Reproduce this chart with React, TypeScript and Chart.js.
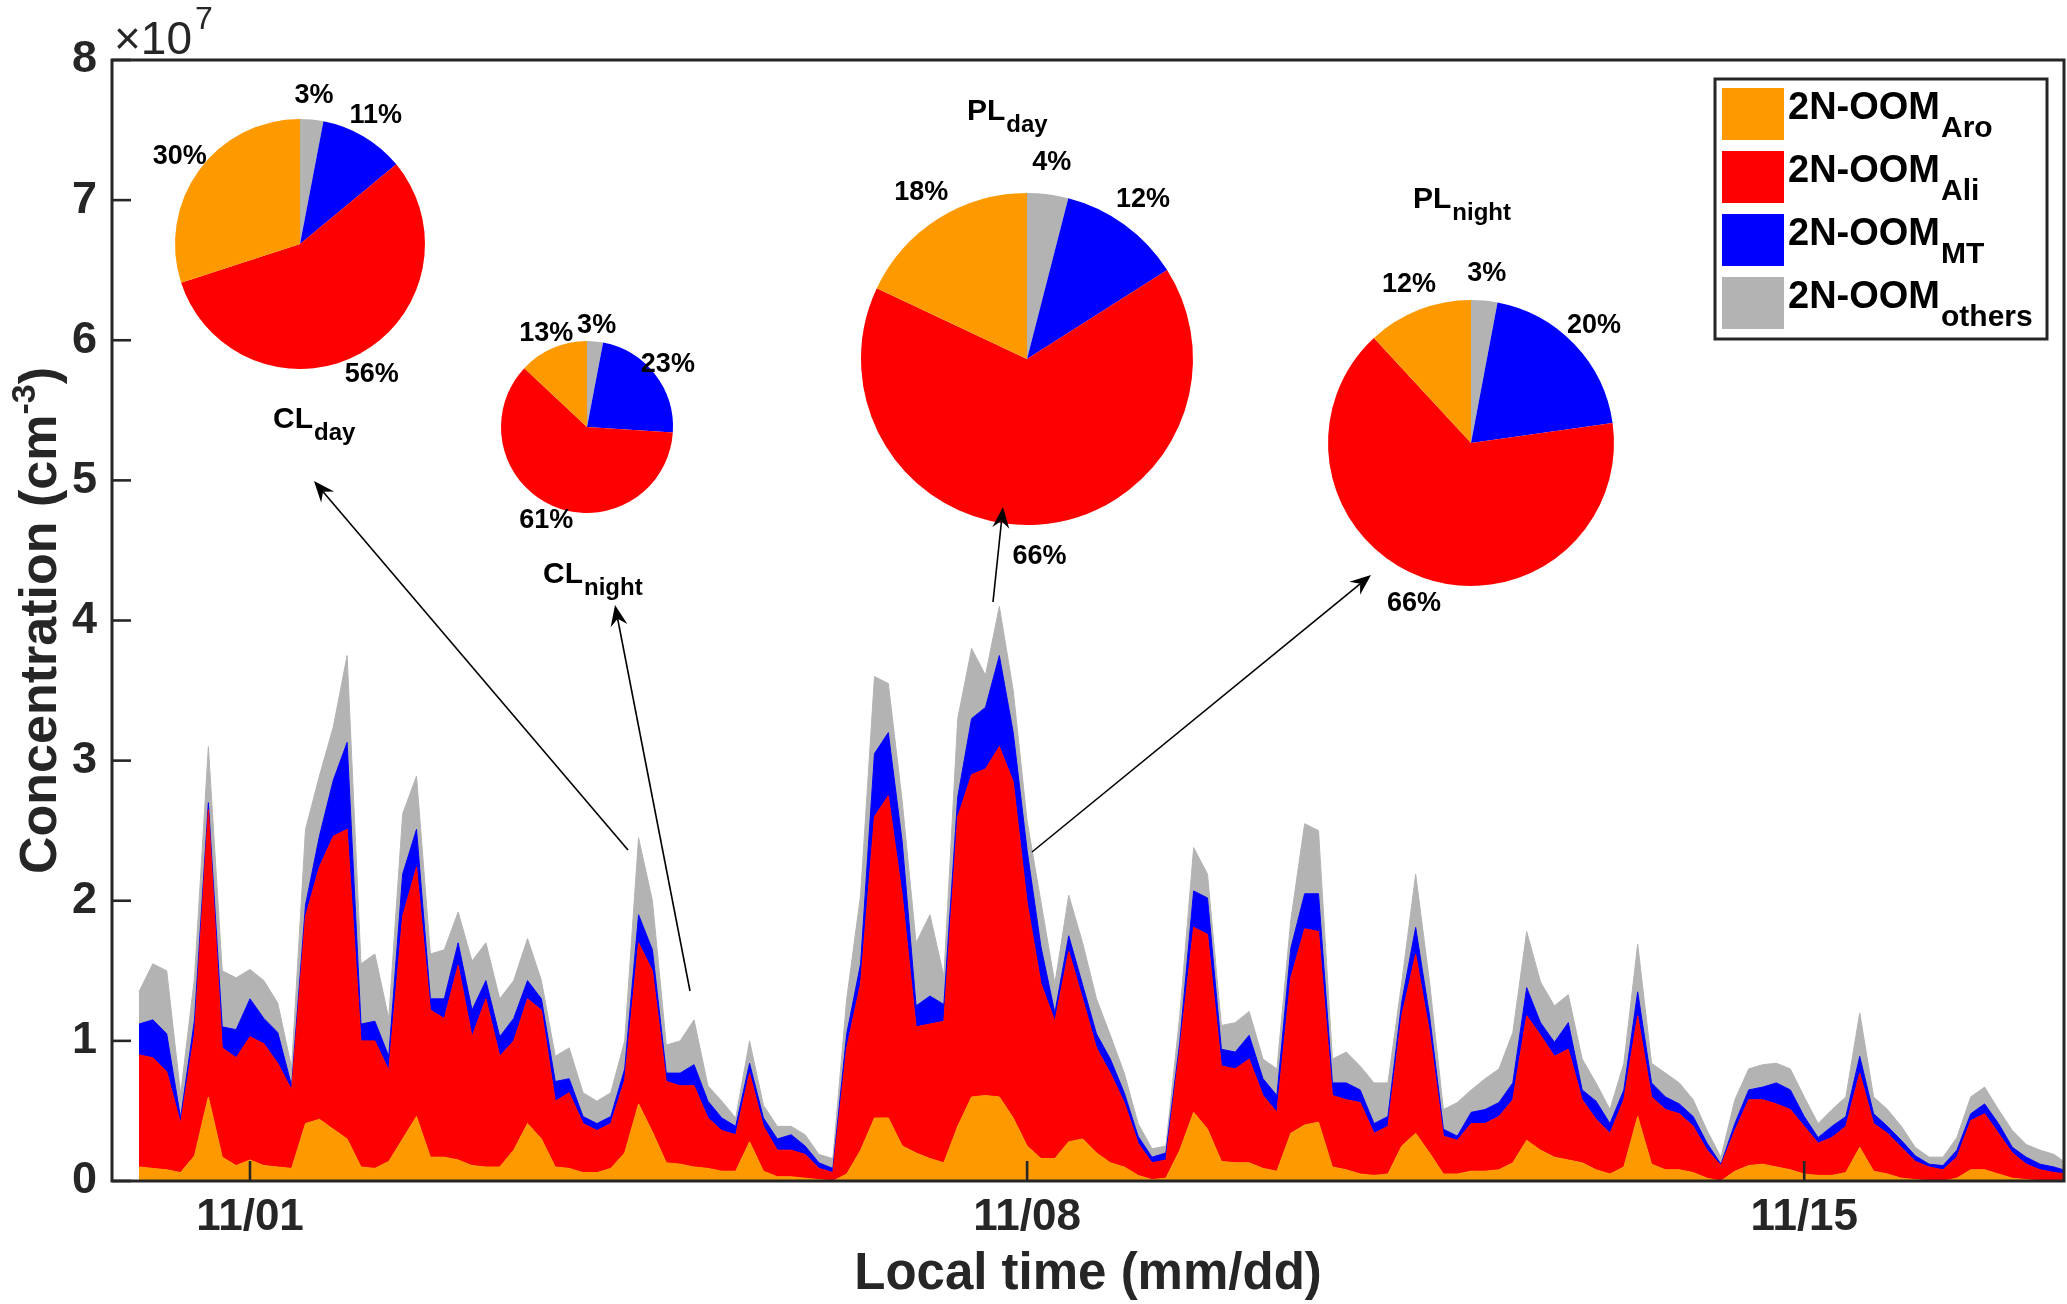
import React, { useEffect, useRef } from 'react';
import { Chart, registerables } from 'chart.js';

Chart.register(...registerables);

// ---------------- DATA ----------------
// time axis: days relative to 11/01 00:00, 3-hourly samples starting 10/31 00:00
const START_DAY = -1.0;
const STEP_DAY = 0.125;

// concentrations in units of 1e7 cm^-3
const aro = [
  0.10, 0.09, 0.08, 0.06, 0.18, 0.60, 0.17, 0.11, 0.15, 0.11,
  0.10, 0.09, 0.41, 0.44, 0.37, 0.30, 0.10, 0.09, 0.14, 0.30,
  0.46, 0.17, 0.17, 0.15, 0.11, 0.10, 0.10, 0.22, 0.41, 0.30,
  0.10, 0.09, 0.06, 0.06, 0.09, 0.20, 0.55, 0.35, 0.13, 0.12,
  0.10, 0.09, 0.07, 0.07, 0.28, 0.07, 0.03, 0.03, 0.02, 0.01,
  0.00, 0.05, 0.22, 0.45, 0.45, 0.25, 0.20, 0.16, 0.13, 0.39,
  0.60, 0.61, 0.60, 0.45, 0.25, 0.16, 0.16, 0.28, 0.30, 0.20,
  0.13, 0.10, 0.04, 0.01, 0.02, 0.22, 0.49, 0.37, 0.14, 0.13,
  0.13, 0.09, 0.07, 0.34, 0.40, 0.42, 0.10, 0.08, 0.05, 0.04,
  0.05, 0.25, 0.34, 0.20, 0.05, 0.05, 0.07, 0.07, 0.08, 0.13,
  0.29, 0.22, 0.17, 0.15, 0.13, 0.08, 0.05, 0.10, 0.46, 0.12,
  0.08, 0.08, 0.06, 0.02, 0.00, 0.07, 0.11, 0.12, 0.10, 0.08,
  0.05, 0.04, 0.04, 0.06, 0.24, 0.07, 0.05, 0.02, 0.01, 0.00,
  0.00, 0.02, 0.08, 0.08, 0.05, 0.02, 0.01, 0.00, 0.00, 0.00,
];
const ali = [
  0.80, 0.79, 0.70, 0.35, 0.87, 2.05, 0.78, 0.77, 0.88, 0.87,
  0.74, 0.56, 1.48, 1.80, 2.09, 2.21, 0.90, 0.91, 0.65, 1.59,
  1.78, 1.05, 0.99, 1.39, 0.92, 1.20, 0.79, 0.78, 0.89, 0.92,
  0.47, 0.54, 0.35, 0.30, 0.32, 0.52, 1.15, 1.15, 0.58, 0.56,
  0.58, 0.36, 0.29, 0.26, 0.49, 0.32, 0.19, 0.19, 0.17, 0.08,
  0.06, 0.90, 1.19, 2.15, 2.30, 1.79, 0.90, 0.96, 1.01, 2.21,
  2.30, 2.33, 2.50, 2.40, 1.74, 1.25, 0.98, 1.36, 1.00, 0.75,
  0.64, 0.46, 0.23, 0.12, 0.13, 0.72, 1.32, 1.39, 0.68, 0.67,
  0.74, 0.52, 0.42, 1.11, 1.40, 1.36, 0.51, 0.50, 0.51, 0.30,
  0.34, 0.93, 1.28, 0.86, 0.27, 0.24, 0.34, 0.34, 0.38, 0.45,
  0.89, 0.82, 0.72, 0.79, 0.45, 0.36, 0.29, 0.48, 0.72, 0.48,
  0.43, 0.40, 0.33, 0.20, 0.11, 0.29, 0.47, 0.46, 0.45, 0.43,
  0.34, 0.23, 0.27, 0.33, 0.53, 0.34, 0.29, 0.22, 0.13, 0.10,
  0.08, 0.15, 0.35, 0.40, 0.29, 0.18, 0.11, 0.08, 0.06, 0.05,
];
const mt = [
  0.22, 0.27, 0.27, 0.04, 0.10, 0.05, 0.15, 0.20, 0.27, 0.18,
  0.22, 0.03, 0.08, 0.22, 0.40, 0.62, 0.12, 0.14, 0.10, 0.30,
  0.27, 0.08, 0.14, 0.16, 0.19, 0.13, 0.14, 0.16, 0.13, 0.08,
  0.14, 0.10, 0.05, 0.05, 0.05, 0.08, 0.20, 0.15, 0.06, 0.09,
  0.15, 0.12, 0.09, 0.06, 0.07, 0.06, 0.08, 0.11, 0.06, 0.04,
  0.03, 0.10, 0.14, 0.45, 0.45, 0.38, 0.15, 0.20, 0.12, 0.14,
  0.40, 0.44, 0.65, 0.35, 0.37, 0.26, 0.06, 0.11, 0.10, 0.10,
  0.10, 0.07, 0.05, 0.04, 0.05, 0.05, 0.26, 0.26, 0.12, 0.12,
  0.17, 0.12, 0.12, 0.21, 0.25, 0.27, 0.09, 0.12, 0.09, 0.07,
  0.07, 0.10, 0.19, 0.12, 0.05, 0.03, 0.08, 0.10, 0.10, 0.12,
  0.20, 0.09, 0.10, 0.19, 0.07, 0.13, 0.07, 0.07, 0.17, 0.10,
  0.09, 0.07, 0.07, 0.05, 0.01, 0.05, 0.07, 0.09, 0.15, 0.14,
  0.07, 0.04, 0.08, 0.07, 0.12, 0.07, 0.05, 0.05, 0.04, 0.02,
  0.03, 0.05, 0.05, 0.07, 0.07, 0.04, 0.05, 0.04, 0.04, 0.02,
];
const oth = [
  0.23, 0.40, 0.45, 0.17, 0.30, 0.40, 0.40, 0.37, 0.21, 0.27,
  0.21, 0.13, 0.54, 0.43, 0.38, 0.62, 0.43, 0.48, 0.27, 0.43,
  0.38, 0.32, 0.35, 0.22, 0.35, 0.27, 0.27, 0.27, 0.30, 0.13,
  0.18, 0.22, 0.17, 0.16, 0.17, 0.20, 0.55, 0.35, 0.20, 0.23,
  0.32, 0.11, 0.12, 0.06, 0.16, 0.09, 0.09, 0.06, 0.08, 0.06,
  0.07, 0.25, 0.49, 0.55, 0.35, 0.29, 0.45, 0.58, 0.20, 0.56,
  0.50, 0.23, 0.35, 0.30, 0.21, 0.32, 0.21, 0.29, 0.30, 0.25,
  0.17, 0.14, 0.09, 0.06, 0.05, 0.19, 0.31, 0.17, 0.17, 0.21,
  0.17, 0.14, 0.19, 0.20, 0.50, 0.45, 0.17, 0.22, 0.17, 0.29,
  0.24, 0.14, 0.38, 0.24, 0.14, 0.24, 0.16, 0.22, 0.24, 0.36,
  0.40, 0.29, 0.26, 0.20, 0.22, 0.13, 0.10, 0.19, 0.34, 0.14,
  0.17, 0.15, 0.12, 0.09, 0.05, 0.17, 0.15, 0.16, 0.14, 0.15,
  0.14, 0.10, 0.12, 0.14, 0.31, 0.12, 0.12, 0.10, 0.06, 0.05,
  0.06, 0.09, 0.12, 0.12, 0.10, 0.12, 0.09, 0.10, 0.09, 0.05,
];

const tickDays = [0, 7, 14];
const tickLabels = ['11/01', '11/08', '11/15'];
const yMax = 8;

const seriesMain = '2N-OOM';
const seriesSubs = ['Aro', 'Ali', 'MT', 'others'];
const seriesColors = ['rgb(255,153,0)', 'rgb(255,0,0)', 'rgb(0,0,255)', 'rgb(179,179,179)'];

// pie composition (%), slice order clockwise from top: others, MT, Ali, Aro
const pieNames = ['CL', 'CL', 'PL', 'PL'];
const pieSubs = ['day', 'night', 'day', 'night'];
const pieOthers = [3, 3, 4, 3];
const pieMT = [11, 23, 12, 20];
const pieAli = [56, 61, 66, 66];
const pieAro = [30, 13, 18, 12];

// ---------------- LAYOUT ----------------
const W = 2067;
const H = 1304;
const PLOT = { left: 112, top: 60, right: 2064, bottom: 1181 };
const X_MIN = -1.243;
const X_MAX = 16.34;
const FONT = "'Liberation Sans', Arial, Helvetica, sans-serif";
const AXIS = '#262626';

const PIE_POS = [
  { cx: 300, cy: 244, r: 125, nameX: 273, nameY: 428 },
  { cx: 587, cy: 427, r: 86, nameX: 543, nameY: 583 },
  { cx: 1027, cy: 359, r: 166, nameX: 967, nameY: 120 },
  { cx: 1471, cy: 443, r: 143, nameX: 1413, nameY: 208 },
];
const ARROWS = [
  [628, 850, 314, 481],
  [690, 991, 615, 605],
  [993, 602, 1003, 507],
  [1032, 852, 1371, 575],
];

const times = aro.map((_, i) => START_DAY + i * STEP_DAY);

function drawSub(ctx: CanvasRenderingContext2D, x: number, y: number, main: string, sub: string,
  mainFont: string, subFont: string, subDy: number) {
  ctx.textAlign = 'left';
  ctx.textBaseline = 'alphabetic';
  ctx.font = mainFont;
  const w1 = ctx.measureText(main).width;
  ctx.fillText(main, x, y);
  ctx.font = subFont;
  ctx.fillText(sub, x + w1 + 1, y + subDy);
}

function drawArrow(ctx: CanvasRenderingContext2D, x1: number, y1: number, x2: number, y2: number) {
  const ang = Math.atan2(y2 - y1, x2 - x1);
  const ux = Math.cos(ang), uy = Math.sin(ang);
  const px = -uy, py = ux;
  const L = 21, Wd = 8.5, back = 14;
  ctx.strokeStyle = '#000';
  ctx.fillStyle = '#000';
  ctx.lineWidth = 1.6;
  ctx.beginPath();
  ctx.moveTo(x1, y1);
  ctx.lineTo(x2 - ux * back, y2 - uy * back);
  ctx.stroke();
  ctx.beginPath();
  ctx.moveTo(x2, y2);
  ctx.lineTo(x2 - ux * L + px * Wd, y2 - uy * L + py * Wd);
  ctx.lineTo(x2 - ux * back, y2 - uy * back);
  ctx.lineTo(x2 - ux * L - px * Wd, y2 - uy * L - py * Wd);
  ctx.closePath();
  ctx.fill();
}

const decorPlugin = {
  id: 'decor',
  afterDraw(chart: any) {
    const ctx: CanvasRenderingContext2D = chart.ctx;
    const { left, top, right, bottom } = chart.chartArea;
    const xs = chart.scales.x;
    const ys = chart.scales.y;
    ctx.save();
    // inward ticks
    ctx.strokeStyle = AXIS;
    ctx.lineWidth = 2.6;
    ys.ticks.forEach((t: any) => {
      const py = ys.getPixelForValue(t.value);
      ctx.beginPath();
      ctx.moveTo(left, py);
      ctx.lineTo(left + 19, py);
      ctx.stroke();
    });
    tickDays.forEach((d) => {
      const px = xs.getPixelForValue(d);
      ctx.beginPath();
      ctx.moveTo(px, bottom);
      ctx.lineTo(px, bottom - 20);
      ctx.stroke();
    });
    // frame
    ctx.lineWidth = 3;
    ctx.strokeRect(left, top, right - left, bottom - top);

    // exponent label
    ctx.fillStyle = AXIS;
    ctx.textAlign = 'left';
    ctx.textBaseline = 'alphabetic';
    ctx.font = `46px ${FONT}`;
    ctx.fillText('\u00d710', 114, 54);
    const wx = ctx.measureText('\u00d710').width;
    ctx.font = `32px ${FONT}`;
    ctx.fillText('7', 114 + wx + 3, 29);

    // x title
    ctx.font = `bold 51px ${FONT}`;
    ctx.textAlign = 'center';
    ctx.fillText('Local time (mm/dd)', (left + right) / 2, 1289);

    // y title (rotated, with superscript)
    const mainF = `bold 52px ${FONT}`;
    const supF = `bold 34px ${FONT}`;
    const p1 = 'Concentration (cm';
    const p2 = '-3';
    const p3 = ')';
    ctx.font = mainF;
    const w1 = ctx.measureText(p1).width;
    const w3 = ctx.measureText(p3).width;
    ctx.font = supF;
    const w2 = ctx.measureText(p2).width;
    const total = w1 + w2 + w3;
    ctx.save();
    ctx.translate(56, (top + bottom) / 2);
    ctx.rotate(-Math.PI / 2);
    ctx.textAlign = 'left';
    ctx.font = mainF;
    ctx.fillText(p1, -total / 2, 0);
    ctx.font = supF;
    ctx.fillText(p2, -total / 2 + w1, -21);
    ctx.font = mainF;
    ctx.fillText(p3, -total / 2 + w1 + w2, 0);
    ctx.restore();

    // legend
    const lx = 1715, ly = 79, lw = 332, lh = 260;
    ctx.fillStyle = '#fff';
    ctx.fillRect(lx, ly, lw, lh);
    ctx.strokeStyle = AXIS;
    ctx.lineWidth = 3;
    ctx.strokeRect(lx, ly, lw, lh);
    seriesSubs.forEach((sub, i) => {
      const ry = 88 + i * 63;
      ctx.fillStyle = seriesColors[i];
      ctx.fillRect(1722, ry, 62, 52);
      ctx.fillStyle = '#000';
      drawSub(ctx, 1788, ry + 31, seriesMain, sub, `bold 38px ${FONT}`, `bold 30px ${FONT}`, 18);
    });
    ctx.restore();
  },
};

function mainConfig(): any {
  const series = [aro, ali, mt, oth];
  return {
    type: 'line',
    data: {
      datasets: series.map((arr, i) => ({
        label: seriesMain + seriesSubs[i],
        data: times.map((t, k) => ({ x: t, y: arr[k] })),
        backgroundColor: seriesColors[i],
        borderColor: seriesColors[i],
        borderWidth: 1,
        pointRadius: 0,
        tension: 0,
        fill: i === 0 ? 'origin' : '-1',
      })),
    },
    options: {
      responsive: false,
      animation: false,
      devicePixelRatio: 1,
      events: [],
      layout: { padding: { left: 0, top: PLOT.top, right: W - PLOT.right, bottom: 0 } },
      plugins: { legend: { display: false }, tooltip: { enabled: false }, title: { display: false } },
      scales: {
        x: {
          type: 'linear',
          min: X_MIN,
          max: X_MAX,
          grid: { display: false, drawTicks: false },
          border: { display: false },
          afterBuildTicks: (s: any) => {
            s.ticks = tickDays.map((v) => ({ value: v }));
          },
          afterFit: (s: any) => {
            s.height = H - PLOT.bottom;
            s.paddingLeft = 0;
            s.paddingRight = 0;
          },
          ticks: {
            autoSkip: false,
            maxRotation: 0,
            minRotation: 0,
            padding: 10,
            color: AXIS,
            font: { family: FONT, size: 44, weight: 'bold' },
            callback: (v: number) => {
              const k = tickDays.indexOf(v);
              return k >= 0 ? tickLabels[k] : '';
            },
          },
        },
        y: {
          type: 'linear',
          min: 0,
          max: yMax,
          stacked: true,
          grid: { display: false, drawTicks: false },
          border: { display: false },
          afterFit: (s: any) => {
            s.width = PLOT.left;
            s.paddingTop = 0;
            s.paddingBottom = 0;
          },
          ticks: {
            stepSize: 1,
            padding: 15,
            color: AXIS,
            font: { family: FONT, size: 45, weight: 'bold' },
          },
        },
      },
    },
    plugins: [decorPlugin],
  };
}

const pieLabelPlugin = {
  id: 'pieLabels',
  afterDatasetsDraw(chart: any, _args: any, opts: any) {
    const ctx: CanvasRenderingContext2D = chart.ctx;
    const meta = chart.getDatasetMeta(0);
    const ds = chart.data.datasets[0];
    ctx.save();
    ctx.fillStyle = '#000';
    ctx.font = `bold 27px ${FONT}`;
    ctx.textAlign = 'center';
    ctx.textBaseline = 'middle';
    meta.data.forEach((arc: any, i: number) => {
      const p = arc.getProps(['x', 'y', 'startAngle', 'endAngle', 'outerRadius'], true);
      const mid = (p.startAngle + p.endAngle) / 2;
      const R = p.outerRadius * 1.19;
      ctx.fillText(ds.data[i] + '%', p.x + Math.cos(mid) * R, p.y + Math.sin(mid) * R);
    });
    drawSub(ctx, opts.nameX, opts.nameY, opts.name, opts.sub, `bold 30px ${FONT}`, `bold 24px ${FONT}`, 12);
    if (opts.arrows) {
      ARROWS.forEach((a) => drawArrow(ctx, a[0], a[1], a[2], a[3]));
    }
    ctx.restore();
  },
};

function pieConfig(i: number, withArrows: boolean): any {
  const p = PIE_POS[i];
  return {
    type: 'pie',
    data: {
      labels: seriesSubs.slice().reverse(),
      datasets: [
        {
          data: [pieOthers[i], pieMT[i], pieAli[i], pieAro[i]],
          backgroundColor: [seriesColors[3], seriesColors[2], seriesColors[1], seriesColors[0]],
          borderWidth: 0,
          hoverOffset: 0,
          offset: 0,
        },
      ],
    },
    options: {
      responsive: false,
      animation: false,
      devicePixelRatio: 1,
      events: [],
      radius: p.r,
      rotation: 0,
      layout: {
        padding: {
          left: p.cx - p.r - 2,
          top: p.cy - p.r - 2,
          right: W - (p.cx + p.r + 2),
          bottom: H - (p.cy + p.r + 2),
        },
      },
      plugins: {
        legend: { display: false },
        tooltip: { enabled: false },
        pieLabels: { name: pieNames[i], sub: pieSubs[i], nameX: p.nameX, nameY: p.nameY, arrows: withArrows },
      },
    },
    plugins: [pieLabelPlugin],
  };
}

export default function App() {
  const mainRef = useRef<HTMLCanvasElement | null>(null);
  const pieRefs = useRef<(HTMLCanvasElement | null)[]>([]);

  useEffect(() => {
    document.body.style.margin = '0';
    document.body.style.overflow = 'hidden';
    const charts: Chart[] = [];
    if (mainRef.current) charts.push(new Chart(mainRef.current, mainConfig()));
    PIE_POS.forEach((_, i) => {
      const c = pieRefs.current[i];
      if (c) charts.push(new Chart(c, pieConfig(i, i === PIE_POS.length - 1)));
    });
    return () => charts.forEach((c) => c.destroy());
  }, []);

  return (
    <div style={{ position: 'relative', width: W, height: H, background: '#fff', overflow: 'hidden' }}>
      <canvas ref={mainRef} width={W} height={H} style={{ position: 'absolute', left: 0, top: 0, width: W, height: H }} />
      {PIE_POS.map((_, i) => (
        <canvas
          key={i}
          ref={(el) => { pieRefs.current[i] = el; }}
          width={W}
          height={H}
          style={{ position: 'absolute', left: 0, top: 0, width: W, height: H, pointerEvents: 'none' }}
        />
      ))}
    </div>
  );
}
